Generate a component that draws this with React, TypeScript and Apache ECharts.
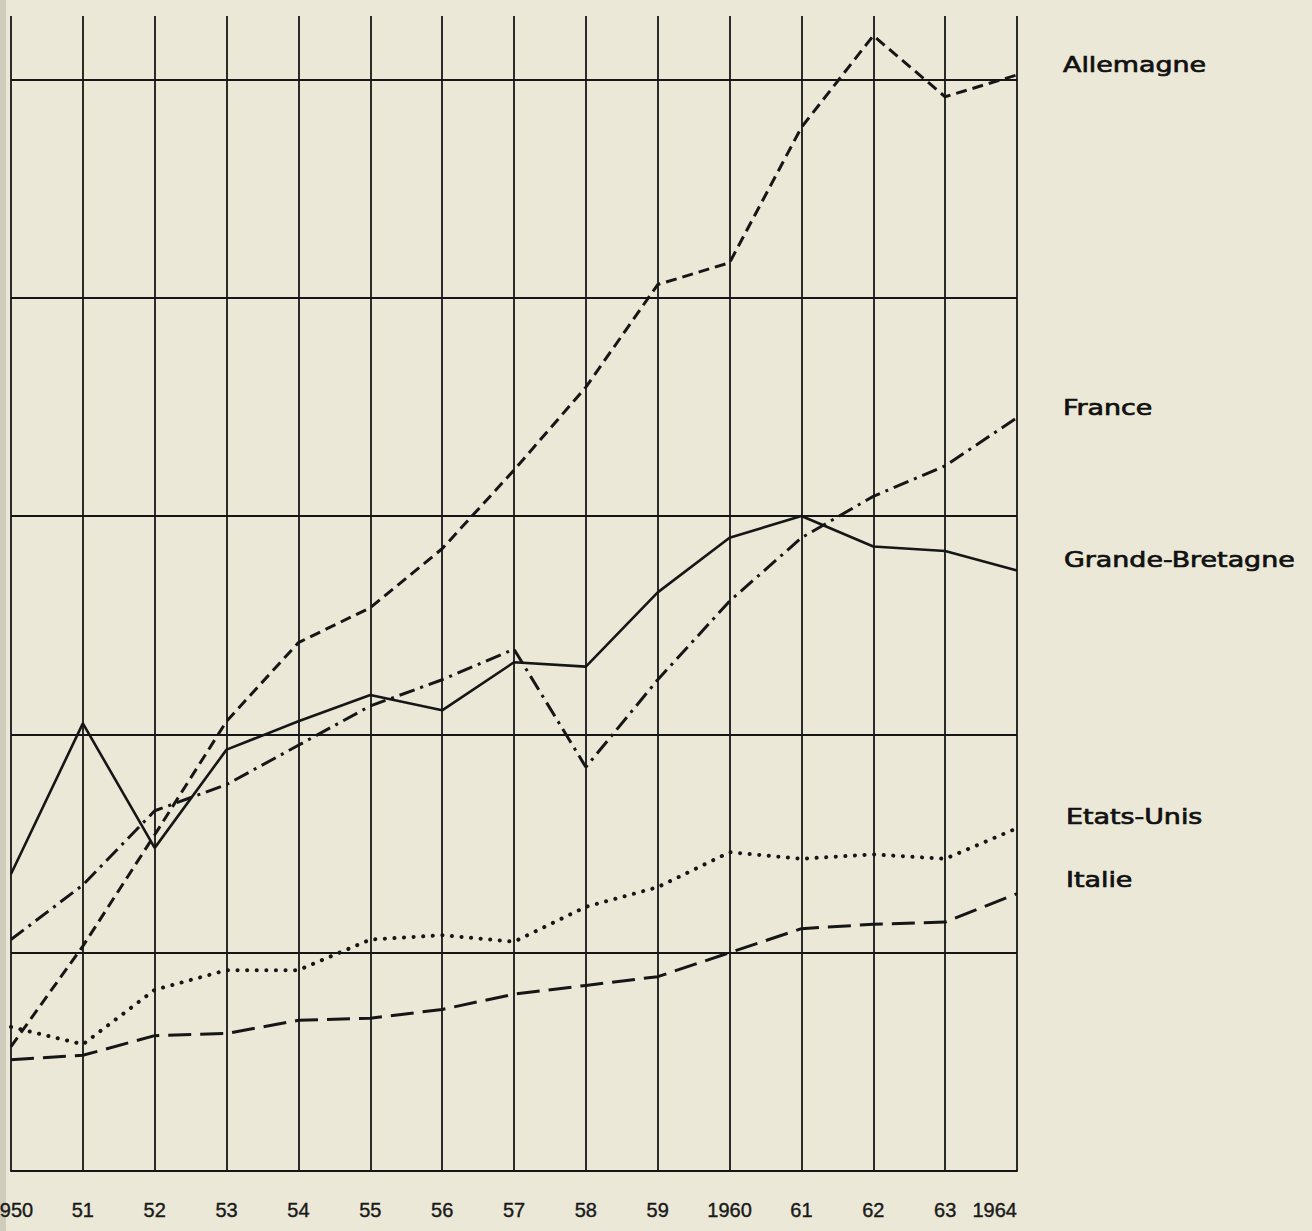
import React, { useEffect, useRef } from "react";
import * as echarts from "echarts";

// Years (tick labels as printed)
const years = ["1950", "51", "52", "53", "54", "55", "56", "57", "58", "59", "1960", "61", "62", "63", "1964"];

// Series values (arbitrary index units, one horizontal grid line = 100)
const allemagne = [57, 103, 154, 206, 242, 258, 285, 321, 359, 406, 416, 478, 520, 492, 502];
const france = [106, 131, 165, 177, 195, 213, 225, 239, 185, 225, 261, 290, 309, 323, 345];
const grandeBretagne = [136, 205, 148, 193, 206, 218, 211, 233, 231, 265, 290, 300, 286, 284, 275];
const etatsUnis = [66, 58, 83, 92, 92, 106, 108, 105, 121, 130, 146, 143, 145, 143, 157];
const italie = [51, 53, 62, 63, 69, 70, 74, 81, 85, 89, 100, 111, 113, 114, 127];

// Horizontal rule levels
const gridLevels = [100, 200, 300, 400, 500];

const names = ["Allemagne", "France", "Grande-Bretagne", "Etats-Unis", "Italie"];

const INK = "#161616";
const PAPER = "#ebe8d7";

export default function App() {
  const ref = useRef<HTMLDivElement>(null);

  useEffect(() => {
    if (!ref.current) return;
    const chart = echarts.init(ref.current, null, { renderer: "svg" });

    const lineSeries = (name: string, data: number[], lineStyle: any, extra: any = {}) => ({
      name,
      type: "line",
      data,
      showSymbol: false,
      symbol: "none",
      silent: true,
      z: 5,
      lineStyle: { color: INK, width: 3, ...lineStyle },
      ...extra,
    });

    const labelYs = [65, 408, 560, 817, 880];
    const labelXs = [1063, 1063, 1064, 1066, 1066];

    chart.setOption({
      animation: false,
      backgroundColor: PAPER,
      grid: {
        left: 11,
        right: 295,
        top: 16,
        bottom: 60,
        containLabel: false,
        outerBoundsMode: "none",
      },
      xAxis: {
        type: "category",
        data: years,
        boundaryGap: false,
        axisLine: { show: true, lineStyle: { color: INK, width: 2 } },
        axisTick: { show: false },
        splitLine: { show: true, lineStyle: { color: INK, width: 1.8 } },
        axisLabel: {
          show: true,
          interval: 0,
          margin: 29,
          color: "#1a1a1a",
          fontFamily: "Liberation Sans, Arial, sans-serif",
          fontSize: 20,
          textBorderColor: "#1a1a1a",
          textBorderWidth: 0.4,
          alignMaxLabel: "right",
        },
      },
      yAxis: {
        type: "value",
        min: 0,
        max: 529,
        axisLine: { show: false },
        axisTick: { show: false },
        axisLabel: { show: false },
        splitLine: { show: false },
      },
      series: [
        lineSeries(names[0], allemagne, { type: [11, 6] }, {
          markLine: {
            silent: true,
            symbol: ["none", "none"],
            label: { show: false },
            lineStyle: { type: "solid", color: INK, width: 1.8 },
            emphasis: { disabled: true },
            data: gridLevels.map((v) => ({ yAxis: v })),
            z: 2,
          },
        }),
        lineSeries(names[1], france, { type: [16, 6, 3, 6] }),
        lineSeries(names[2], grandeBretagne, { type: "solid", width: 2.6 }),
        lineSeries(names[3], etatsUnis, { type: [0.1, 9.5], cap: "round", width: 4 }),
        lineSeries(names[4], italie, { type: [23, 9] }),
      ],
      graphic: [
        {
          type: "rect",
          left: 0,
          top: 0,
          shape: { x: 0, y: 0, width: 6, height: 1231 },
          style: { fill: "#cfccbc" },
          silent: true,
        },
        ...names.map((n, i) => ({
          type: "text",
          x: labelXs[i],
          y: labelYs[i],
          scaleX: 1.28,
          silent: true,
          style: {
            text: n,
            fill: "#111",
            stroke: "#111",
            lineWidth: 0.7,
            font: "21px 'DejaVu Sans', sans-serif",
            fontSize: 21,
            fontFamily: "DejaVu Sans",
            textAlign: "left",
            align: "left",
            textVerticalAlign: "middle",
            verticalAlign: "middle",
          },
        })),
      ],
    });

    return () => chart.dispose();
  }, []);

  return (
    <div
      ref={ref}
      style={{ position: "absolute", left: 0, top: 0, width: 1312, height: 1231, background: PAPER }}
    />
  );
}
